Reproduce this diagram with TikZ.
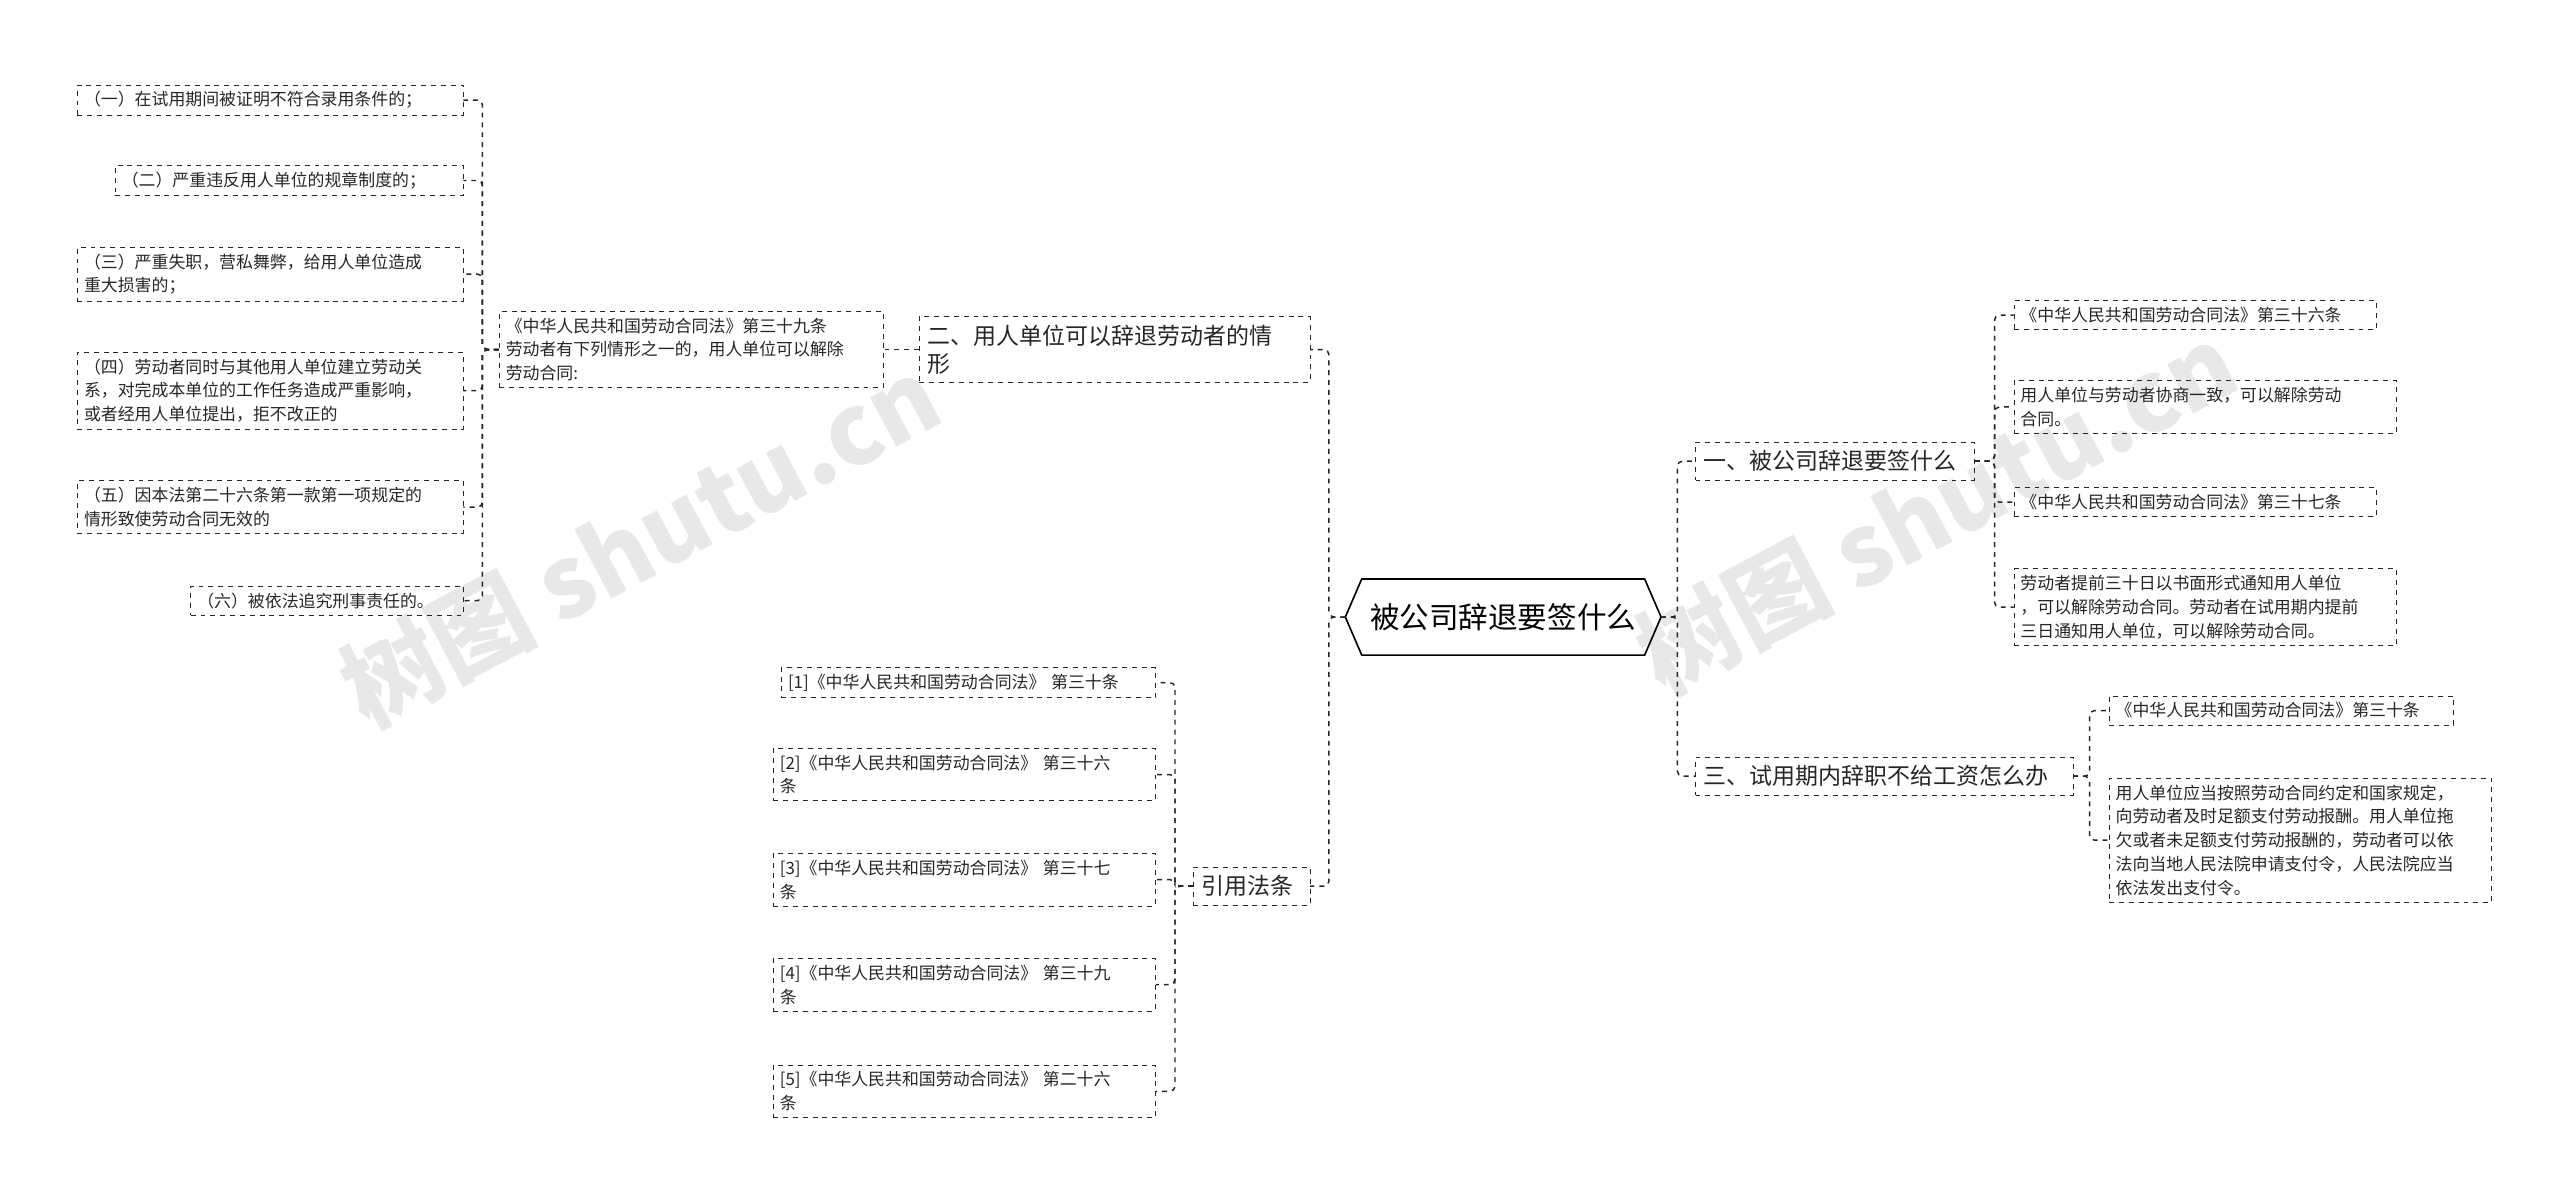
\documentclass[tikz,border=0pt]{standalone}
\usepackage{fontspec}
\setmainfont{Noto Sans CJK SC}
\usetikzlibrary{calc}
\begin{document}
\begin{tikzpicture}[x=1pt,y=-1pt,
  leaf/.style={draw=black!85,dashed,inner sep=4pt,font=\fontsize{10.3}{14.5}\selectfont,align=left,anchor=west,text=black!85},
  branch/.style={draw=black!85,dashed,inner sep=5pt,font=\fontsize{14}{17}\selectfont,align=left,anchor=west,text=black!85},
  conn/.style={draw=black!85,dashed,line width=0.9pt,rounded corners=3pt}]
\useasboundingbox (0,0) rectangle (1560,730);
% watermark
\node[text=black!9,rotate=28,font=\fontsize{60}{60}\selectfont\bfseries] at (390,330) {树图 shutu.cn};
\node[text=black!9,rotate=28,font=\fontsize{60}{60}\selectfont\bfseries] at (1180,310) {树图 shutu.cn};
% center
\node[font=\fontsize{18}{20}\selectfont,minimum width=172,minimum height=46] (c) at (916,376) {被公司辞退要签什么};
\draw[line width=1pt] (c.north west) -- (c.north east) -- ($(c.east)+(10,0)$) -- (c.south east) -- (c.south west) -- ($(c.west)+(-10,0)$) -- cycle;
\coordinate (ce) at ($(c.east)+(10,0)$);
\coordinate (cw) at ($(c.west)+(-10,0)$);
% right branch 1
\node[branch,text width=160] (b1) at (1033,281) {一、被公司辞退要签什么};
\node[leaf,text width=213] (r1) at (1227,192) {《中华人民共和国劳动合同法》第三十六条};
\node[leaf,text width=225] (r2) at (1227,248) {用人单位与劳动者协商一致，可以解除劳动\\合同。};
\node[leaf,text width=213] (r3) at (1227,306) {《中华人民共和国劳动合同法》第三十七条};
\node[leaf,text width=225] (r4) at (1227,370) {劳动者提前三十日以书面形式通知用人单位\\，可以解除劳动合同。劳动者在试用期内提前\\三日通知用人单位，可以解除劳动合同。};
% right branch 3
\node[branch,text width=220] (b3) at (1033,473) {三、试用期内辞职不给工资怎么办};
\node[leaf,text width=202] (s1) at (1285,433) {《中华人民共和国劳动合同法》第三十条};
\node[leaf,text width=225] (s2) at (1285,512) {用人单位应当按照劳动合同约定和国家规定，\\向劳动者及时足额支付劳动报酬。用人单位拖\\欠或者未足额支付劳动报酬的，劳动者可以依\\法向当地人民法院申请支付令，人民法院应当\\依法发出支付令。};
% left branch 2
\node[branch,text width=228] (b2) at (560,213) {二、用人单位可以辞退劳动者的情\\形};
\node[leaf,text width=226] (m) at (304,213) {《中华人民共和国劳动合同法》第三十九条\\劳动者有下列情形之一的，用人单位可以解除\\劳动合同:};
\node[leaf,text width=227] (g1) at (47,61) {（一）在试用期间被证明不符合录用条件的；};
\node[leaf,text width=204] (g2) at (70,110) {（二）严重违反用人单位的规章制度的；};
\node[leaf,text width=227] (g3) at (47,167) {（三）严重失职，营私舞弊，给用人单位造成\\重大损害的；};
\node[leaf,text width=227] (g4) at (47,238) {（四）劳动者同时与其他用人单位建立劳动关\\系，对完成本单位的工作任务造成严重影响，\\或者经用人单位提出，拒不改正的};
\node[leaf,text width=227] (g5) at (47,309) {（五）因本法第二十六条第一款第一项规定的\\情形致使劳动合同无效的};
\node[leaf,text width=158] (g6) at (116,366) {（六）被依法追究刑事责任的。};
% left cite
\node[branch,text width=61] (b4) at (727,540) {引用法条};
\node[leaf,text width=220] (k1) at (476,416) {[1]《中华人民共和国劳动合同法》 第三十条};
\node[leaf,text width=225] (k2) at (471,472) {[2]《中华人民共和国劳动合同法》 第三十六\\条};
\node[leaf,text width=225] (k3) at (471,536) {[3]《中华人民共和国劳动合同法》 第三十七\\条};
\node[leaf,text width=225] (k4) at (471,600) {[4]《中华人民共和国劳动合同法》 第三十九\\条};
\node[leaf,text width=225] (k5) at (471,665) {[5]《中华人民共和国劳动合同法》 第二十六\\条};
% connectors
\foreach \t in {b1,b3} \draw[conn] (ce) -- ++(10,0) |- (\t.west);
\foreach \t in {b2,b4} \draw[conn] (cw) -- ++(-10,0) |- (\t.east);
\foreach \t in {r1,r2,r3,r4} \draw[conn] (b1.east) -- ++(12,0) |- (\t.west);
\foreach \t in {s1,s2} \draw[conn] (b3.east) -- ++(10,0) |- (\t.west);
\draw[conn] (b2.west) -- (m.east);
\foreach \t in {g1,g2,g3,g4,g5,g6} \draw[conn] (m.west) -- ++(-10,0) |- (\t.east);
\foreach \t in {k1,k2,k3,k4,k5} \draw[conn] (b4.west) -- ++(-11,0) |- (\t.east);
\end{tikzpicture}
\end{document}
